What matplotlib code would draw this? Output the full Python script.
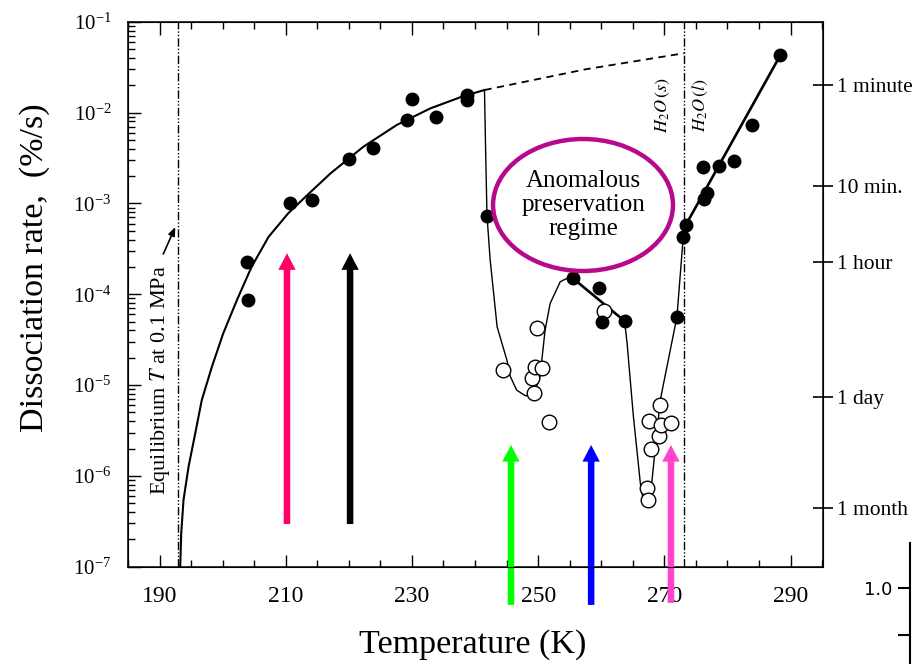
import matplotlib
matplotlib.use('Agg')
import matplotlib.pyplot as plt
import numpy as np
from matplotlib.patches import Ellipse, FancyArrowPatch
from matplotlib.ticker import FixedLocator, MultipleLocator, LogLocator, NullLocator, NullFormatter

plt.rcParams['font.family'] = ['Liberation Serif', 'DejaVu Serif']
plt.rcParams['mathtext.fontset'] = 'stix'

# measured dissociation rates (%/s)
filled_T = [203.8, 204.1, 210.6, 214.2, 220.1, 223.8, 229.2, 230.0, 233.85, 238.7, 238.8,
            241.9, 255.5, 259.6, 260.2, 263.7, 272.0, 273.0, 273.4, 276.1, 276.3, 276.7,
            278.7, 281.1, 283.9, 288.4]
filled_rate = [2.28e-4, 8.6e-5, 1.02e-3, 1.09e-3, 3.08e-3, 4.07e-3, 8.3e-3, 1.41e-2, 8.85e-3,
               1.56e-2, 1.37e-2, 7.3e-4, 1.50e-4, 1.16e-4, 4.9e-5, 5.07e-5, 5.65e-5, 4.3e-4,
               5.78e-4, 2.5e-3, 1.11e-3, 1.31e-3, 2.60e-3, 2.95e-3, 7.3e-3, 4.3e-2]
open_T = [244.5, 249.0, 249.4, 249.5, 249.9, 250.6, 251.8, 260.5, 267.3, 267.4, 267.5,
          267.9, 269.2, 269.3, 269.5, 271.0]
open_rate = [1.46e-5, 1.21e-5, 8.2e-6, 1.59e-5, 4.2e-5, 1.53e-5, 3.95e-6, 6.6e-5, 7.3e-7,
             5.4e-7, 4.05e-6, 1.97e-6, 2.77e-6, 6.0e-6, 3.63e-6, 3.78e-6]

# guide curves
fit_T = [193.28, 193.44, 193.8, 194.6, 195.66, 196.7, 198.3, 200.1, 202.27, 204.6, 207.3,
         210.4, 213.5, 217.1, 222.3, 227.6, 232.9, 238.2, 241.5]
fit_rate = [1.0e-7, 2.33e-7, 5.42e-7, 1.26e-6, 2.94e-6, 6.84e-6, 1.59e-5, 3.71e-5, 8.63e-5,
            2.01e-4, 4.30e-4, 7.78e-4, 1.25e-3, 2.14e-3, 4.2e-3, 7.3e-3, 1.11e-2, 1.52e-2,
            1.77e-2]
anom_T = [241.5, 241.7, 241.9, 242.4, 243.5, 245.05, 245.6, 246.6, 248.0, 249.4, 250.3,
          251.1, 251.9, 253.5, 254.6, 255.5]
anom_rate = [1.77e-2, 3.2e-3, 7.3e-4, 2.38e-4, 4.39e-5, 1.88e-5, 1.24e-5, 8.8e-6, 7.6e-6,
             8.1e-6, 1.24e-5, 4.0e-5, 7.9e-5, 1.37e-4, 1.50e-4, 1.50e-4]
plateau_T = [255.5, 263.7]
plateau_rate = [1.50e-4, 5.07e-5]
vee_T = [263.7, 264.1, 265.1, 266.2, 266.6, 267.2, 268.0, 269.35, 272.0, 273.0, 273.4]
vee_rate = [5.07e-5, 2.88e-5, 4.5e-6, 8.3e-7, 5.7e-7, 5.0e-7, 8.3e-7, 6.8e-6, 5.65e-5,
            4.3e-4, 5.78e-4]
melt_T = [273.4, 288.4]
melt_rate = [5.78e-4, 4.3e-2]
extrap_T = [241.5, 257.6, 273.15]
extrap_rate = [1.77e-2, 3.0e-2, 4.5e-2]

T_equil = 193.0
T_melt = 273.15

# time scale on the right
time_rate = [2.01e-2, 1.56e-3, 2.27e-4, 7.3e-6, 4.45e-7]
time_labels = ['1 minute', '10 min.', '1 hour', '1 day', '1 month']

# coloured markers
arrow_T = [210.2, 220.2, 245.7, 258.4, 271.05]
arrow_tail = [2.95e-7, 2.95e-7, 3.8e-8, 3.8e-8, 4.0e-8]
arrow_tip = [2.83e-4, 2.83e-4, 2.19e-6, 2.19e-6, 2.19e-6]
arrow_colors = ['#FF0066', '#000000', '#00FF00', '#0000FF', '#FF44CC']

fig = plt.figure(figsize=(9.18, 6.64), dpi=100)
ax = fig.add_axes([0.1394, 0.1465, 0.7568, 0.8208])

ax.plot(fit_T, fit_rate, 'k-', lw=1.5, zorder=2)
ax.plot(anom_T, anom_rate, 'k-', lw=1.0, zorder=2)
ax.plot(plateau_T, plateau_rate, 'k-', lw=1.9, zorder=2)
ax.plot(vee_T, vee_rate, 'k-', lw=1.0, zorder=2)
ax.plot(melt_T, melt_rate, 'k-', lw=1.9, zorder=2)
ax.plot(extrap_T, extrap_rate, 'k-', lw=1.3, dashes=(4, 3), zorder=2)

dashdotdot = (6, 1.5, 1, 1.5, 1, 1.5)
ax.axvline(T_equil, color='k', lw=1.0, dashes=dashdotdot, zorder=1)
ax.axvline(T_melt, color='k', lw=1.0, dashes=dashdotdot, zorder=1)

ax.plot(open_T, open_rate, 'o', mfc='white', mec='k', ms=10.5, mew=1.0, zorder=3)
ax.plot(filled_T, filled_rate, 'o', color='k', ms=9, zorder=3)

ax.set_yscale('log')
ax.set_ylim(1e-7, 1e-1)
ax.set_xlim(185, 295.1)
ax.xaxis.set_major_locator(FixedLocator(np.arange(190, 291, 20)))
ax.xaxis.set_minor_locator(MultipleLocator(5))
ax.yaxis.set_major_locator(LogLocator(base=10, numticks=10))
ax.yaxis.set_minor_locator(LogLocator(base=10, subs=np.arange(2, 10), numticks=20))
ax.yaxis.set_minor_formatter(NullFormatter())
ax.tick_params(which='both', direction='in', top=True, right=False, width=1.0)
ax.tick_params(which='major', length=9)
ax.tick_params(which='minor', length=5)
ax.tick_params(axis='x', labelsize=17, pad=14)
ax.tick_params(axis='y', labelsize=15, pad=12)
for s in ax.spines.values():
    s.set_linewidth(1.1)

ax2 = ax.twinx()
ax2.set_yscale('log')
ax2.set_ylim(1e-7, 1e-1)
ax2.yaxis.set_major_locator(FixedLocator(time_rate))
ax2.yaxis.set_minor_locator(NullLocator())
ax2.set_yticklabels(time_labels)
ax2.tick_params(axis='y', direction='inout', length=15, width=1.2, labelsize=15.5, pad=3)

for T, y0, y1, c in zip(arrow_T, arrow_tail, arrow_tip, arrow_colors):
    arr = FancyArrowPatch((T, y0), (T, y1),
                          arrowstyle='simple,head_length=1.2,head_width=1.25,tail_width=0.47',
                          mutation_scale=10, color=c, lw=0, shrinkA=0, shrinkB=0,
                          zorder=5, clip_on=False)
    ax.add_patch(arr)

ax.add_patch(Ellipse((0.655, 0.6637), 0.259, 0.2422, transform=ax.transAxes,
                     facecolor='none', edgecolor='#B8088C', lw=3.2, zorder=4))
ax.text(0.655, 0.6637, 'Anomalous\npreservation\nregime', transform=ax.transAxes,
        ha='center', va='center', fontsize=18, linespacing=1.1, zorder=4)

ax.text(190.1, 1.13e-5, r'Equilibrium $T$ at 0.1 MPa', rotation=90,
        ha='center', va='center', fontsize=16)
ax.annotate('', xy=(192.5, 5.5e-4), xytext=(190.6, 2.77e-4),
            arrowprops=dict(arrowstyle='-|>,head_length=0.5,head_width=0.2',
                            color='k', lw=1.2, shrinkA=0, shrinkB=0))

ax.text(269.8, 1.21e-2, r'$H_2O\,(s)$', rotation=90, ha='center', va='center', fontsize=13)
ax.text(275.7, 1.21e-2, r'$H_2O\,(l)$', rotation=90, ha='center', va='center', fontsize=13)

fig.text(35 / 918, 1 - 268 / 664, 'Dissociation rate,  (%/s)', rotation=90,
         ha='center', va='center', fontsize=24.5)
fig.text(472.5 / 918, 1 - 645 / 664, 'Temperature (K)', ha='center', va='center',
         fontsize=24.5)

# stray scale at the lower right corner
ax3 = fig.add_axes([910 / 918, 0.0, 0.001, 121.3 / 664])
ax3.patch.set_visible(False)
for side in ['top', 'right', 'bottom']:
    ax3.spines[side].set_visible(False)
ax3.spines['left'].set_linewidth(1.5)
ax3.xaxis.set_visible(False)
ax3.set_ylim(0.676, 1.195)
ax3.set_yticks([1.0])
ax3.set_yticklabels(['1.0'])
ax3.yaxis.set_minor_locator(FixedLocator([0.8]))
ax3.tick_params(axis='y', which='both', direction='out', length=9, width=1.5,
                labelsize=13, pad=4, labelfontfamily='DejaVu Sans')

fig.savefig('out.png', dpi=100)
